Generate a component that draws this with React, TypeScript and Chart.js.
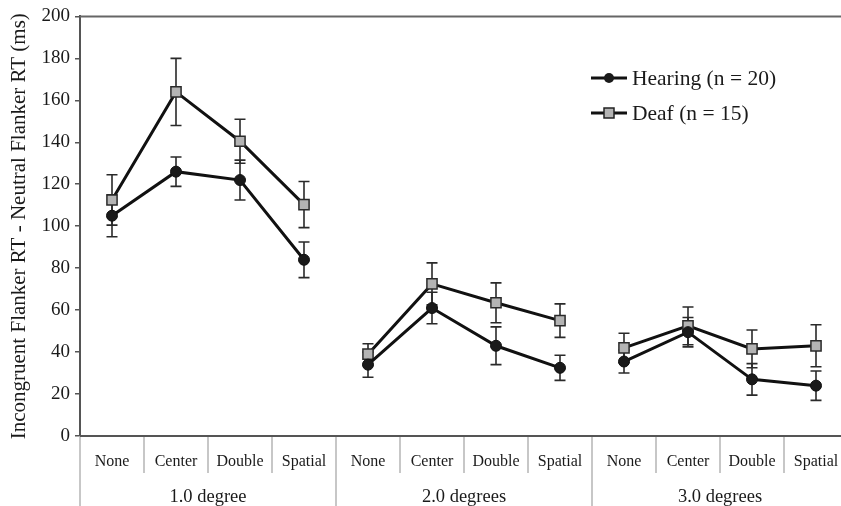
import React, { useEffect, useRef } from 'react';
import { Chart, registerables } from 'chart.js';

Chart.register(...registerables);

const groupLabels = ['1.0 degree', '2.0 degrees', '3.0 degrees'];
const conditionLabels = ['None', 'Center', 'Double', 'Spatial'];
const hearingValues = [105, 126, 122, 84, 34, 61, 43, 32.5, 35.5, 49.5, 27, 24];
const hearingErrors = [10, 7, 9.5, 8.5, 6, 7.5, 9, 6, 5.5, 7, 7.5, 7];
const deafValues = [112.5, 164, 140.5, 110.3, 39, 72.5, 63.5, 55, 42, 52.5, 41.5, 43];
const deafErrors = [12, 16, 10.5, 11, 5, 10, 9.5, 8, 7, 9, 9, 10];
const seriesNames = ['Hearing (n = 20)', 'Deaf (n = 15)'];

const FONT = "'Liberation Serif', 'Times New Roman', serif";

const errorBarPlugin = {
  id: 'errorBars',
  beforeDatasetsDraw(chart: any) {
    const ctx = chart.ctx;
    const y = chart.scales.y;
    const errs = [hearingErrors, deafErrors];
    const vals = [hearingValues, deafValues];
    ctx.save();
    ctx.strokeStyle = '#2a2a2a';
    ctx.lineWidth = 1.6;
    for (let d = 0; d < 2; d++) {
      const meta = chart.getDatasetMeta(d);
      meta.data.forEach((pt: any, j: number) => {
        const x = pt.x;
        const top = y.getPixelForValue(vals[d][j] + errs[d][j]);
        const bot = y.getPixelForValue(vals[d][j] - errs[d][j]);
        ctx.beginPath();
        ctx.moveTo(x, top);
        ctx.lineTo(x, bot);
        ctx.moveTo(x - 5.5, top);
        ctx.lineTo(x + 5.5, top);
        ctx.moveTo(x - 5.5, bot);
        ctx.lineTo(x + 5.5, bot);
        ctx.stroke();
      });
    }
    ctx.restore();
  },
};

const decorPlugin = {
  id: 'decor',
  afterDraw(chart: any) {
    const ctx = chart.ctx;
    const xs = chart.scales.x;
    const area = chart.chartArea;
    const H = chart.height;
    ctx.save();
    // top border
    ctx.strokeStyle = '#666';
    ctx.lineWidth = 2;
    ctx.beginPath();
    ctx.moveTo(area.left, area.top);
    ctx.lineTo(area.right, area.top);
    ctx.stroke();
    // separators
    ctx.strokeStyle = '#b5b5b5';
    ctx.lineWidth = 1.5;
    const n = groupLabels.length * conditionLabels.length;
    for (let i = 0; i <= n; i++) {
      const x = xs.getPixelForValue(i - 0.5);
      if (x > area.right + 1) continue;
      const isGroup = i % conditionLabels.length === 0;
      ctx.beginPath();
      ctx.moveTo(x, area.bottom);
      ctx.lineTo(x, isGroup ? H : area.bottom + 37);
      ctx.stroke();
    }
    // bottom axis line
    ctx.strokeStyle = '#555';
    ctx.lineWidth = 2;
    ctx.beginPath();
    ctx.moveTo(area.left, area.bottom);
    ctx.lineTo(area.right, area.bottom);
    ctx.stroke();
    // labels
    ctx.fillStyle = '#1a1a1a';
    ctx.textAlign = 'center';
    ctx.textBaseline = 'middle';
    ctx.font = `16px ${FONT}`;
    for (let i = 0; i < n; i++) {
      ctx.fillText(conditionLabels[i % conditionLabels.length], xs.getPixelForValue(i), area.bottom + 26);
    }
    ctx.font = `18.5px ${FONT}`;
    groupLabels.forEach((g, k) => {
      const c = xs.getPixelForValue(k * conditionLabels.length + (conditionLabels.length - 1) / 2);
      ctx.fillText(g, c, area.bottom + 61);
    });
    // legend
    const legendX = 591;
    const legendY = [78, 113];
    ctx.textAlign = 'left';
    ctx.font = `21.5px ${FONT}`;
    for (let d = 0; d < 2; d++) {
      const ly = legendY[d];
      ctx.strokeStyle = '#111';
      ctx.lineWidth = 3;
      ctx.beginPath();
      ctx.moveTo(legendX, ly);
      ctx.lineTo(legendX + 36, ly);
      ctx.stroke();
      ctx.lineWidth = 1.5;
      if (d === 0) {
        ctx.fillStyle = '#1a1a1a';
        ctx.beginPath();
        ctx.arc(legendX + 18, ly, 5, 0, Math.PI * 2);
        ctx.fill();
      } else {
        ctx.fillStyle = '#b4b4b4';
        ctx.strokeStyle = '#222';
        ctx.fillRect(legendX + 13, ly - 5, 10, 10);
        ctx.strokeRect(legendX + 13, ly - 5, 10, 10);
      }
      ctx.fillStyle = '#1a1a1a';
      ctx.fillText(seriesNames[d], legendX + 41, ly + 1);
    }
    ctx.restore();
  },
};

export default function App() {
  const ref = useRef<HTMLCanvasElement | null>(null);
  useEffect(() => {
    if (!ref.current) return;
    const segColor = (ctx: any) =>
      ctx.p0DataIndex % conditionLabels.length === conditionLabels.length - 1 ? 'rgba(0,0,0,0)' : '#111';
    const chart = new Chart(ref.current, {
      type: 'line',
      data: {
        datasets: [
          {
            label: seriesNames[0],
            data: hearingValues.map((v, i) => ({ x: i, y: v })),
            borderColor: '#111',
            borderWidth: 3,
            pointStyle: 'circle',
            pointRadius: 5.5,
            pointBackgroundColor: '#1a1a1a',
            pointBorderColor: '#111',
            pointBorderWidth: 1,
            segment: { borderColor: segColor },
            tension: 0,
          },
          {
            label: seriesNames[1],
            data: deafValues.map((v, i) => ({ x: i, y: v })),
            borderColor: '#111',
            borderWidth: 3,
            pointStyle: 'rect',
            pointRadius: 7.2,
            pointBackgroundColor: '#b4b4b4',
            pointBorderColor: '#2a2a2a',
            pointBorderWidth: 1.5,
            segment: { borderColor: segColor },
            tension: 0,
          },
        ],
      },
      plugins: [errorBarPlugin, decorPlugin],
      options: {
        responsive: false,
        animation: false,
        layout: { autoPadding: false, padding: { top: 16, bottom: 70, left: 0, right: 0 } },
        plugins: { legend: { display: false }, tooltip: { enabled: false } },
        scales: {
          x: {
            type: 'linear',
            display: false,
            min: -0.5,
            max: -0.5 + 761 / 64,
          },
          y: {
            min: 0,
            max: 200,
            afterFit: (s: any) => {
              s.width = 80;
            },
            ticks: {
              stepSize: 20,
              padding: 5,
              color: '#1a1a1a',
              font: { family: FONT, size: 19 },
            },
            grid: {
              drawOnChartArea: false,
              drawTicks: true,
              tickLength: 5,
              color: '#555',
              lineWidth: 1.5,
            },
            border: { display: true, color: '#555', width: 2 },
            title: {
              display: true,
              text: 'Incongruent Flanker RT - Neutral Flanker RT (ms)',
              color: '#1a1a1a',
              font: { family: FONT, size: 21 },
              padding: { top: 7, bottom: 0 },
            },
          },
        },
      },
    });
    return () => chart.destroy();
  }, []);
  return (
    <div style={{ position: 'fixed', left: 0, top: 0, width: 841, height: 506, background: '#fff', overflow: 'hidden' }}>
      <canvas ref={ref} width={841} height={506} style={{ display: 'block' }} />
    </div>
  );
}
